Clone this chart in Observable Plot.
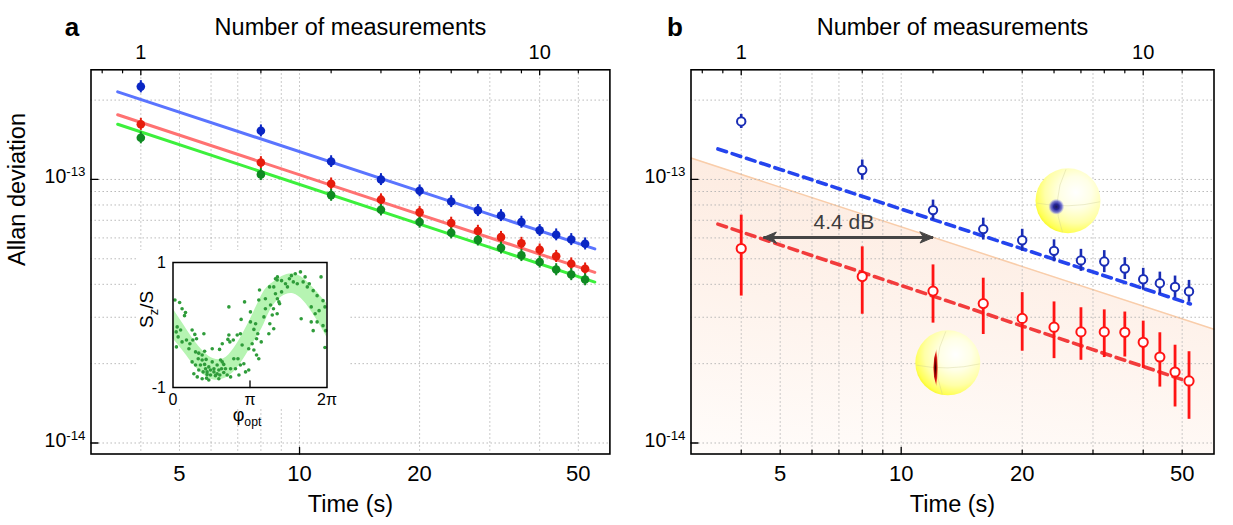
<!DOCTYPE html>
<html><head><meta charset="utf-8">
<script src="https://cdn.jsdelivr.net/npm/d3@7"></script>
<script src="https://cdn.jsdelivr.net/npm/@observablehq/plot@0.6"></script>
<style>
body{margin:0;background:#fff;}
#wrap{position:relative;width:1233px;height:525px;overflow:hidden;font-family:"Liberation Sans",Arial,sans-serif;}
#pa{position:absolute;left:0;top:0;}
#pb{position:absolute;left:616px;top:0;}
#inset{position:absolute;left:137px;top:250px;}
</style></head><body>
<div id="wrap"><div id="pa"></div><div id="pb"></div><div id="inset"></div></div>
<script>
// ---------- data (Allan deviation in units of 1e-14) ----------
const timeS = [4, 8, 12, 16, 20, 24, 28, 32, 36, 40, 44, 48, 52];
const secondsPerMeasurement = 4;

// panel a
const aBlue  = [22.5, 15.3, 11.7, 10.0, 9.06, 8.25, 7.63, 7.30, 6.89, 6.41, 6.17, 5.92, 5.70];
const aRed   = [16.2, 11.6, 9.63, 8.38, 7.50, 6.83, 6.37, 6.04, 5.73, 5.41, 5.11, 4.79, 4.58];
const aGreen = [14.4, 10.45, 8.72, 7.67, 6.89, 6.28, 5.90, 5.50, 5.15, 4.86, 4.55, 4.36, 4.17];
const aBlueErr  = [1.2, 0.8, 0.6, 0.52, 0.47, 0.43, 0.40, 0.38, 0.36, 0.33, 0.32, 0.31, 0.30];
const aRedErr   = [0.85, 0.6, 0.5, 0.44, 0.39, 0.36, 0.33, 0.31, 0.30, 0.28, 0.27, 0.25, 0.24];
const aGreenErr = [0.75, 0.55, 0.46, 0.40, 0.36, 0.33, 0.31, 0.29, 0.27, 0.25, 0.24, 0.23, 0.22];
const fitT = [3.5, 55];
const aBlueFit  = [21.5, 5.45];
const aRedFit   = [17.6, 4.44];
const aGreenFit = [16.2, 4.08];

// panel b
const bBlue   = [16.6, 10.86, 7.65, 6.48, 5.88, 5.36, 4.93, 4.88, 4.59, 4.18, 4.04, 3.91, 3.76];
const bBlueLo = [15.6, 9.95, 7.01, 5.89, 5.34, 4.87, 4.48, 4.43, 4.17, 3.80, 3.67, 3.55, 3.42];
const bBlueHi = [17.65, 11.85, 8.35, 7.13, 6.47, 5.90, 5.43, 5.37, 5.05, 4.60, 4.45, 4.30, 4.14];
const bRed    = [5.47, 4.28, 3.77, 3.38, 2.97, 2.75, 2.64, 2.64, 2.63, 2.41, 2.12, 1.86, 1.72];
const bRedLo  = [3.61, 3.08, 2.85, 2.58, 2.23, 2.09, 2.06, 2.11, 2.12, 1.92, 1.63, 1.37, 1.23];
const bRedHi  = [7.32, 5.55, 4.74, 4.22, 3.72, 3.43, 3.26, 3.20, 3.14, 2.90, 2.62, 2.35, 2.22];
const dashT = [3.5, 52.4];
const bBlueFit = [13.05, 3.37];
const bRedFit  = [6.77, 1.70];
const sqlT = [3, 60];
const sqlV = [12.06, 2.70];
const arrowT = [4.54, 12];
const arrowV = 6.02;
const gainLabel = "4.4 dB";
const gainLabelT = 7.2, gainLabelV = 6.49;
const sphereT = [26.0, 13.06];   // coherent, squeezed
const sphereV = [8.3, 2.014];

// inset: s_z/S versus phi_opt
const bandPhi = [0, 0.44, 0.85, 1.26, 1.66, 2.07, 2.48, 2.89, 3.30, 3.70, 4.11, 4.91, 5.71, 6.283];
const bandHi  = [0.26, 0.00, -0.24, -0.43, -0.54, -0.54, -0.38, -0.11, 0.21, 0.53, 0.69, 0.82, 0.60, 0.34];
const bandLo  = [-0.22, -0.43, -0.64, -0.80, -0.88, -0.86, -0.75, -0.54, -0.27, 0.00, 0.32, 0.50, 0.18, -0.20];
const insetPhi = [0.08,0.27,0.37,0.51,0.47,0.17,0.13,0.31,0.21,0.37,0.55,0.14,0.65,0.78,0.89,0.96,0.81,0.69,1.26,0.92,
 1.05,1.29,1.19,1.03,1.19,1.35,0.78,0.92,1.12,1.29,1.46,1.05,1.23,1.39,1.53,1.67,1.80,1.94,2.01,2.07,
 1.87,1.67,1.39,1.53,1.73,1.91,2.07,2.21,2.35,0.85,0.99,1.19,1.46,1.87,1.60,1.90,2.01,2.24,2.28,2.32,
 2.46,2.62,2.75,2.82,2.65,2.75,2.89,3.09,2.96,2.69,2.48,2.35,2.55,2.28,2.78,2.92,3.16,3.16,3.37,3.30,
 3.46,3.41,3.60,3.23,3.09,3.30,3.41,3.50,3.53,3.50,3.77,3.77,3.71,3.98,4.11,4.25,4.18,4.32,4.25,4.05,
 4.11,3.95,3.91,1.37,1.80,1.98,1.60,2.14,1.33,
 4.26,4.43,4.59,4.83,4.99,5.20,5.39,5.56,5.72,5.88,6.04,6.12,6.20,5.96,5.80,5.64,5.88,6.12,6.23,6.20,
 5.23,5.72,5.64,5.48,4.91,4.67,4.43,4.26,4.35,4.10,3.94,4.18,5.07,5.31,4.75];
const insetS = [0.40,0.36,0.26,0.20,0.15,-0.03,-0.11,-0.08,-0.19,-0.27,-0.24,-0.35,-0.38,-0.08,-0.15,-0.22,-0.24,-0.30,-0.14,-0.43,
 -0.45,-0.42,-0.48,-0.54,-0.56,-0.55,-0.59,-0.64,-0.64,-0.63,-0.67,-0.72,-0.75,-0.75,-0.72,-0.70,-0.64,-0.56,-0.59,-0.63,
 -0.72,-0.75,-0.79,-0.80,-0.81,-0.80,-0.76,-0.80,-0.83,-0.78,-0.83,-0.86,-0.88,-0.86,-0.38,-0.39,-0.30,-0.23,-0.16,-0.27,
 -0.24,-0.16,-0.14,-0.32,-0.54,-0.64,-0.62,-0.72,-0.75,-0.80,-0.54,-0.70,-0.70,0.29,0.09,0.37,0.21,0.05,0.02,-0.07,
 -0.14,-0.22,-0.27,-0.30,-0.38,-0.40,-0.48,-0.54,0.56,0.40,0.42,0.26,0.13,0.32,0.61,0.72,0.50,0.37,0.18,0.16,
 -0.06,0.02,-0.14,-0.85,-0.78,-0.70,-0.59,-0.70,-0.70,
 0.77,0.71,0.66,0.79,0.82,0.85,0.77,0.66,0.55,0.47,0.77,0.39,0.29,0.23,0.18,0.05,0.05,-0.01,-0.09,-0.36,
 0.10,-0.09,0.29,0.61,0.69,0.61,0.53,0.42,0.34,0.26,0.61,0.74,0.66,0.69,0.74];
const insetXTicks = [0, Math.PI, 2 * Math.PI];
const insetXLabels = ["0", "π", "2π"];
const insetYTicks = [1, -1];
const insetYLabels = ["1", "-1"];

// axes
const xDomain = [3, 60];
const yDomain = [0.9085, 26.06];
const yGrid = [1, 2, 3, 4, 5, 6, 7, 8, 9, 10, 20];
const xGrid = [4, 5, 6, 7, 8, 9, 10, 20, 30, 40, 50];
const yMajor = [1, 10];
const yLabels = ["10^{-14}", "10^{-13}"];
const bottomLabelT = [5, 10, 20, 50];
const topMajorN = [1, 10];
const topMinorN = [0.8, 0.9, 2, 3, 4, 5, 6, 7, 8, 9, 12.5];
const aBottomTickT = [10];
const bBottomMinorT = [4, 5, 6, 7, 8, 9, 20, 30, 40, 50];
const bBottomMajorT = [10];

// ---------- helpers ----------
const FONT = "'Liberation Sans', Arial, sans-serif";
const tickShape = {draw(ctx, l) { ctx.moveTo(0, 0); ctx.lineTo(0, -l); }};
const headShape = {draw(ctx, l) { const w = 5.5; ctx.moveTo(0, -l); ctx.lineTo(w, 0); ctx.lineTo(0, -0.28 * l); ctx.lineTo(-w, 0); ctx.closePath(); }};
const meridianSym = {draw(ctx) { ctx.moveTo(-2, -31.5); ctx.quadraticCurveTo(-17.5, 0, -5.5, 31.5); ctx.moveTo(-31.5, 2.3); ctx.quadraticCurveTo(0, 8.4, 32, 1); }};
const streakSym = {draw(ctx) { ctx.moveTo(0, -19); ctx.quadraticCurveTo(-6.5, 0, 0, 19); ctx.quadraticCurveTo(3, 0, 0, -19); ctx.closePath(); }};
const grid = {stroke: "#b3b3b3", strokeWidth: 1, strokeDasharray: "1.4,2.6"};
const topN = n => n * secondsPerMeasurement;

function addGradients(svg) {
  const defs = d3.select(svg).insert("defs", ":first-child");
  function grad(type, id, attrs, stops) {
    const g = defs.append(type).attr("id", id);
    for (const k in attrs) g.attr(k, attrs[k]);
    stops.forEach(([o, c, op]) => g.append("stop").attr("offset", o).attr("stop-color", c).attr("stop-opacity", op ?? 1));
  }
  grad("radialGradient", "ballGrad", {cx: 0.62, cy: 0.37, r: 0.7},
    [[0, "#ffffff"], [0.35, "#ffffe6"], [0.68, "#ffffa8"], [0.9, "#ffff55"], [1, "#f6f61c"]]);
  grad("radialGradient", "blueSpot", {cx: 0.5, cy: 0.5, r: 0.5},
    [[0, "#1c1a55"], [0.35, "#26269a"], [0.7, "#4444d0", 0.7], [1, "#8080ff", 0]]);
  grad("radialGradient", "redSpot", {cx: 0.45, cy: 0.5, r: 0.55},
    [[0, "#1a0000"], [0.3, "#8a0000"], [0.65, "#e0201a"], [1, "#ff9040", 0.25]]);
  grad("linearGradient", "sqlGrad", {x1: 0, y1: 1, x2: 0.2, y2: 0},
    [[0, "#fffcfa"], [1, "#fdebe0"]]);
}

function richify(root) {
  root.querySelectorAll("text").forEach(t => {
    const s = t.textContent;
    if (!/[\^_]\{/.test(s)) return;
    const fs = parseFloat(getComputedStyle(t).fontSize) || 16;
    while (t.firstChild) t.removeChild(t.firstChild);
    const re = /([\^_])\{([^}]*)\}/g;
    let last = 0, m, shift = 0;
    const add = (txt, scale, dy) => {
      const ts = document.createElementNS("http://www.w3.org/2000/svg", "tspan");
      ts.textContent = txt;
      if (scale !== 1) ts.setAttribute("font-size", (fs * scale).toFixed(1));
      if (dy) ts.setAttribute("dy", dy.toFixed(1));
      t.appendChild(ts);
    };
    while ((m = re.exec(s))) {
      if (m.index > last) { add(s.slice(last, m.index), 1, -shift); shift = 0; }
      const d = m[1] === "^" ? -0.36 * fs : 0.3 * fs;
      add(m[2], 0.68, d - shift);
      shift = d;
      last = re.lastIndex;
    }
    if (last < s.length) add(s.slice(last), 1, -shift);
  });
}

function axesMarks(opts) {
  const {letter, letterDx, bottomMajor, bottomMinor, showYTitle} = opts;
  const marks = [
    Plot.frame({stroke: "black", strokeWidth: 1.6}),
    Plot.vector(topMajorN, {x: topN, frameAnchor: "top", length: 5, rotate: 180, anchor: "start", shape: tickShape, strokeWidth: 1.3}),
    Plot.vector(topMinorN, {x: topN, frameAnchor: "top", length: 3, rotate: 180, anchor: "start", shape: tickShape, strokeWidth: 1.2}),
    Plot.vector(bottomMajor, {x: d => d, frameAnchor: "bottom", length: 6.5, rotate: 0, anchor: "start", shape: tickShape, strokeWidth: 1.3}),
    Plot.vector(bottomMinor, {x: d => d, frameAnchor: "bottom", length: 4, rotate: 0, anchor: "start", shape: tickShape, strokeWidth: 1.2}),
    Plot.vector(yMajor, {y: d => d, frameAnchor: "left", length: 7, rotate: 90, anchor: "start", shape: tickShape, strokeWidth: 1.3}),
    Plot.text(yMajor, {y: d => d, text: yLabels, frameAnchor: "left", textAnchor: "end", lineAnchor: "bottom", dx: -5.5, dy: 3.7, fontSize: 19.5}),
    Plot.text(topMajorN, {x: topN, text: d => String(d), frameAnchor: "top", lineAnchor: "bottom", dy: -10.5, fontSize: 20}),
    Plot.text(bottomLabelT, {x: d => d, text: d => String(d), frameAnchor: "bottom", lineAnchor: "bottom", dy: 26.5, fontSize: 22}),
    Plot.text(["Number of measurements"], {text: d => d, frameAnchor: "top", lineAnchor: "bottom", dy: -35, fontSize: 23.5}),
    Plot.text(["Time (s)"], {text: d => d, frameAnchor: "bottom", lineAnchor: "bottom", dy: 58, fontSize: 23.5}),
    Plot.text([letter], {text: d => d, frameAnchor: "top-left", lineAnchor: "bottom", dx: letterDx, dy: -34.3, fontSize: 26, fontWeight: "bold"})
  ];
  if (showYTitle) marks.push(Plot.text(["Allan deviation"], {text: d => d, frameAnchor: "left", rotate: -90, lineAnchor: "bottom", dx: -66.5, dy: 4, fontSize: 23.5}));
  return marks;
}

const common = {
  height: 525, marginTop: 69.3, marginBottom: 71.5,
  x: {type: "log", domain: xDomain, axis: null},
  y: {type: "log", domain: yDomain, axis: null},
  style: {fontFamily: FONT, color: "black", background: "white", overflow: "visible"}
};

// ---------- panel a ----------
const series = [
  {v: aBlue, e: aBlueErr, fit: aBlueFit, dot: "#0a26c4", line: "#5a74ff"},
  {v: aRed, e: aRedErr, fit: aRedFit, dot: "#e61c0c", line: "#ff7272"},
  {v: aGreen, e: aGreenErr, fit: aGreenFit, dot: "#0f8a22", line: "#3cf03c"}
];
const plotA = Plot.plot({
  ...common, width: 616, marginLeft: 90.5, marginRight: 6.6,
  marks: [
    Plot.ruleY(yGrid, {y: d => d, ...grid}),
    Plot.ruleX(xGrid, {x: d => d, ...grid}),
    ...series.map(s => Plot.line(fitT, {x: fitT, y: s.fit, stroke: s.line, strokeWidth: 3})),
    ...series.map(s => Plot.ruleX(timeS, {x: timeS, y1: s.v.map((v, i) => v - s.e[i]), y2: s.v.map((v, i) => v + s.e[i]), stroke: s.dot, strokeWidth: 2})),
    ...series.map(s => Plot.dot(timeS, {x: timeS, y: s.v, r: 4.3, fill: s.dot})),
    ...axesMarks({letter: "a", letterDx: -26.2, bottomMajor: aBottomTickT, bottomMinor: [], showYTitle: true})
  ]
});
document.getElementById("pa").append(plotA);

// ---------- panel b ----------
const plotB = Plot.plot({
  ...common, width: 617, marginLeft: 74.5, marginRight: 19.5,
  marks: [
    Plot.areaY(sqlT, {x: sqlT, y1: yDomain[0], y2: sqlV, fill: "url(#sqlGrad)"}),
    Plot.line(sqlT, {x: sqlT, y: sqlV, stroke: "#f9cdaa", strokeWidth: 1.5}),
    Plot.ruleY(yGrid, {y: d => d, ...grid}),
    Plot.ruleX(xGrid, {x: d => d, ...grid}),
    Plot.line(dashT, {x: dashT, y: bBlueFit, stroke: "#2444ee", strokeWidth: 3.6, strokeDasharray: "9,6"}),
    Plot.line(dashT, {x: dashT, y: bRedFit, stroke: "#f23c3c", strokeWidth: 3.6, strokeDasharray: "9,6"}),
    Plot.ruleX(timeS, {x: timeS, y1: bBlueLo, y2: bBlueHi, stroke: "#1a2db5", strokeWidth: 2.6}),
    Plot.ruleX(timeS, {x: timeS, y1: bRedLo, y2: bRedHi, stroke: "#ff1414", strokeWidth: 2.8}),
    Plot.dot(timeS, {x: timeS, y: bBlue, r: 4.2, fill: "white", stroke: "#1a2db5", strokeWidth: 2}),
    Plot.dot(timeS, {x: timeS, y: bRed, r: 4.6, fill: "white", stroke: "#ff1414", strokeWidth: 2}),
    Plot.link([0], {x1: arrowT[0], x2: arrowT[1], y1: arrowV, y2: arrowV, stroke: "#454545", strokeWidth: 3}),
    Plot.vector([0, 1], {x: i => arrowT[i], y: arrowV, rotate: i => (i ? 90 : -90), length: 13, anchor: "end", shape: headShape, fill: "#454545", stroke: "#454545", strokeWidth: 1}),
    Plot.text([gainLabel], {x: gainLabelT, y: gainLabelV, text: d => d, lineAnchor: "bottom", fontSize: 21, fill: "#3c3c3c"}),
    Plot.dot([0, 1], {x: i => sphereT[i], y: i => sphereV[i], r: 32.5, fill: "url(#ballGrad)"}),
    Plot.dot([0, 1], {x: i => sphereT[i], y: i => sphereV[i], r: 32, symbol: meridianSym, fill: "none", stroke: "#c8c890", strokeWidth: 1, strokeOpacity: 0.35}),
    Plot.dot([0], {x: sphereT[0], y: sphereV[0], r: 8, dx: -11.7, dy: 6, fill: "url(#blueSpot)"}),
    Plot.dot([1], {x: sphereT[1], y: sphereV[1], r: 10, dx: -11.3, dy: 5, symbol: streakSym, fill: "url(#redSpot)"}),
    ...axesMarks({letter: "b", letterDx: -24, bottomMajor: bBottomMajorT, bottomMinor: bBottomMinorT, showYTitle: false})
  ]
});
addGradients(plotB);
document.getElementById("pb").append(plotB);

// ---------- inset ----------
const plotI = Plot.plot({
  width: 211, height: 157, marginLeft: 35.5, marginTop: 12, marginRight: 21.5, marginBottom: 20,
  x: {domain: [0, 2 * Math.PI], axis: null},
  y: {domain: [-1, 1], axis: null},
  style: {fontFamily: FONT, color: "black", background: "white", overflow: "visible"},
  marks: [
    Plot.areaY(bandPhi, {x: bandPhi, y1: bandLo, y2: bandHi, fill: "#b6f4b2", curve: "natural"}),
    Plot.dot(insetPhi, {x: insetPhi, y: insetS, r: 1.8, fill: "#2f9c3a"}),
    Plot.frame({stroke: "black", strokeWidth: 1.5}),
    Plot.vector([Math.PI], {x: d => d, frameAnchor: "bottom", length: 6.5, rotate: 0, anchor: "start", shape: tickShape, strokeWidth: 1.3}),
    Plot.text(insetXTicks, {x: d => d, text: insetXLabels, frameAnchor: "bottom", lineAnchor: "bottom", dy: 17, fontSize: 16}),
    Plot.text(insetYTicks, {y: d => d, text: insetYLabels, frameAnchor: "left", textAnchor: "end", lineAnchor: "middle", dx: -7, fontSize: 16}),
    Plot.text(["φ_{opt}"], {x: Math.PI, text: d => d, frameAnchor: "bottom", lineAnchor: "bottom", dx: -3, dy: 33, fontSize: 18}),
    Plot.text(["S_{z}/S"], {text: d => d, frameAnchor: "left", rotate: -90, lineAnchor: "bottom", dx: -20.5, dy: 3, fontSize: 19})
  ]
});
document.getElementById("inset").append(plotI);

[plotA, plotB, plotI].forEach(richify);
</script>
</body></html>
